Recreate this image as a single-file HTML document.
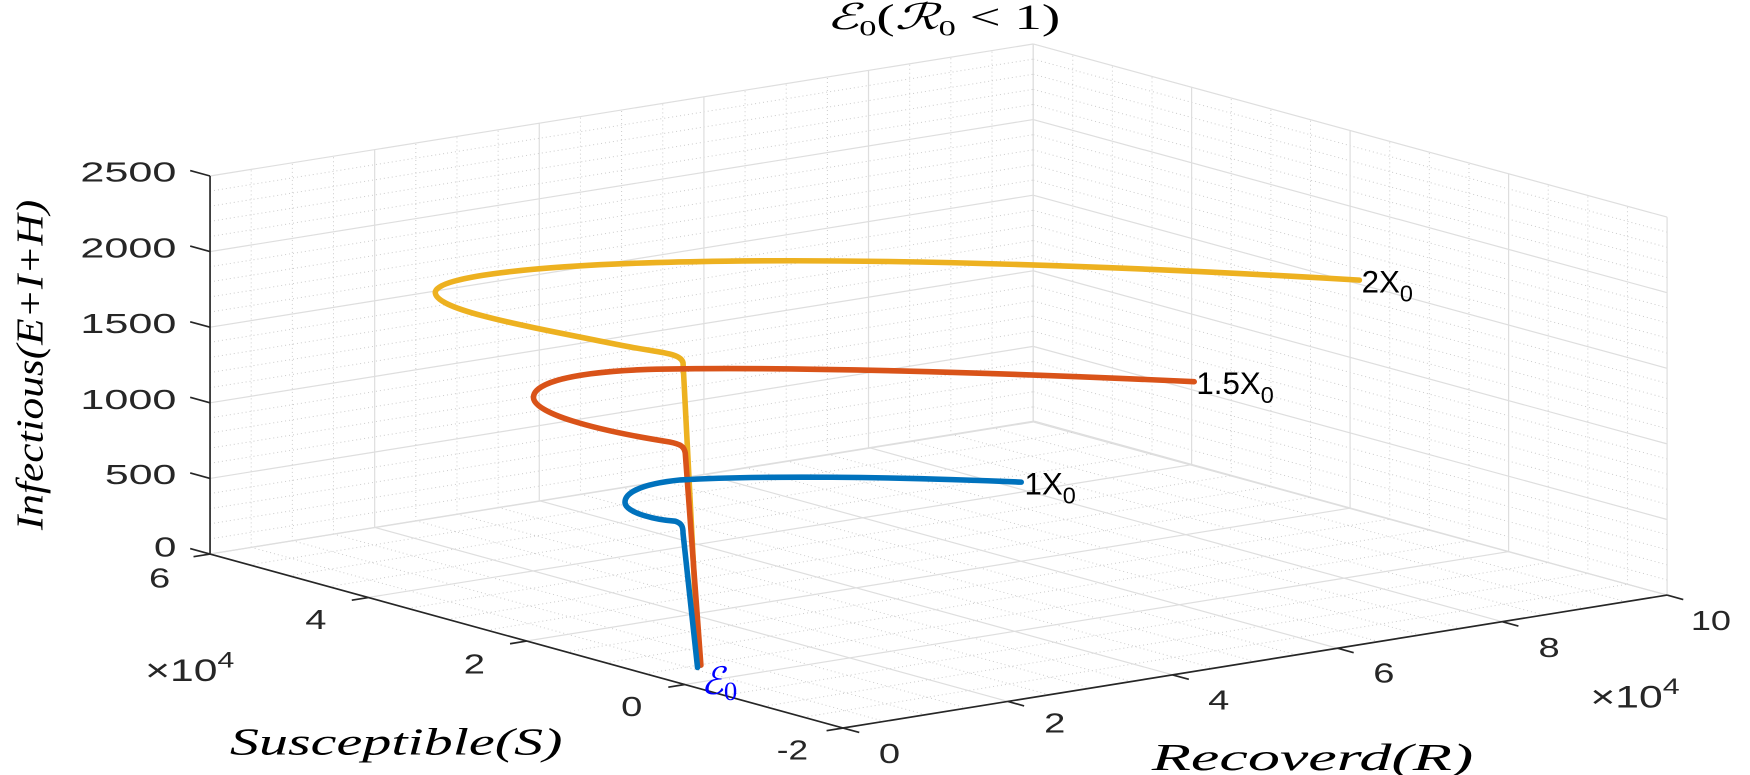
<!DOCTYPE html>
<html><head><meta charset="utf-8"><style>
html,body{margin:0;padding:0;background:#fff;width:1750px;height:775px;overflow:hidden}
svg{display:block}
.mj{stroke:#dedede;stroke-width:1.2;fill:none}
.mn{stroke:#cccccc;stroke-width:1;fill:none;stroke-dasharray:1 3}
.ax{stroke:#262626;stroke-width:1.5;fill:none}
.tl{font-family:"Liberation Sans",sans-serif;font-size:25px;fill:#262626}
.lb{font-family:"Liberation Serif",serif;font-style:italic;font-size:34px;fill:#000}
</style></head><body>
<svg width="1750" height="775" viewBox="0 0 1568 694.4" preserveAspectRatio="none" xmlns="http://www.w3.org/2000/svg">
<defs>
<g id="wallR">
 <path class="mn" vector-effect="non-scaling-stroke" d="M0.5,0V5M1,0V5M1.5,0V5M2.5,0V5M3,0V5M3.5,0V5M4.5,0V5M5,0V5M5.5,0V5M6.5,0V5M7,0V5M7.5,0V5M8.5,0V5M9,0V5M9.5,0V5M0,0.2H10M0,0.4H10M0,0.6H10M0,0.8H10M0,1.2H10M0,1.4H10M0,1.6H10M0,1.8H10M0,2.2H10M0,2.4H10M0,2.6H10M0,2.8H10M0,3.2H10M0,3.4H10M0,3.6H10M0,3.8H10M0,4.2H10M0,4.4H10M0,4.6H10M0,4.8H10"/>
 <path class="mj" vector-effect="non-scaling-stroke" d="M0,0V5M2,0V5M4,0V5M6,0V5M8,0V5M10,0V5M0,0H10M0,1H10M0,2H10M0,3H10M0,4H10M0,5H10"/>
</g>
<g id="wallS">
 <path class="mn" vector-effect="non-scaling-stroke" d="M0.5,0V5M1,0V5M1.5,0V5M2.5,0V5M3,0V5M3.5,0V5M4.5,0V5M5,0V5M5.5,0V5M6.5,0V5M7,0V5M7.5,0V5M0,0.2H8M0,0.4H8M0,0.6H8M0,0.8H8M0,1.2H8M0,1.4H8M0,1.6H8M0,1.8H8M0,2.2H8M0,2.4H8M0,2.6H8M0,2.8H8M0,3.2H8M0,3.4H8M0,3.6H8M0,3.8H8M0,4.2H8M0,4.4H8M0,4.6H8M0,4.8H8"/>
 <path class="mj" vector-effect="non-scaling-stroke" d="M0,0V5M2,0V5M4,0V5M6,0V5M8,0V5M0,0H8M0,1H8M0,2H8M0,3H8M0,4H8M0,5H8"/>
</g>
<g id="floor">
 <path class="mn" vector-effect="non-scaling-stroke" d="M0.5,0V8M1,0V8M1.5,0V8M2.5,0V8M3,0V8M3.5,0V8M4.5,0V8M5,0V8M5.5,0V8M6.5,0V8M7,0V8M7.5,0V8M8.5,0V8M9,0V8M9.5,0V8M0,0.5H10M0,1H10M0,1.5H10M0,2.5H10M0,3H10M0,3.5H10M0,4.5H10M0,5H10M0,5.5H10M0,6.5H10M0,7H10M0,7.5H10"/>
 <path class="mj" vector-effect="non-scaling-stroke" d="M0,0V8M2,0V8M4,0V8M6,0V8M8,0V8M10,0V8M0,0H10M0,2H10M0,4H10M0,6H10M0,8H10"/>
</g>
</defs>
<use href="#wallR" transform="matrix(73.75,-11.83,0,-67.74,188.2,496.4)"/>
<use href="#wallS" transform="matrix(-71.0,-19.39,0,-67.74,1493.7,533.2)"/>
<use href="#floor" transform="matrix(73.83,-11.91,-70.9,-19.49,755.4,652.3)"/>

<path class="ax" d="M188.2,496.4V157.7M188.2,496.4L755.4,652.3L1493.7,533.2"/>
<path class="ax" d="M188.2,157.7l-17.8,-4.9M188.2,225.4l-17.8,-4.9M188.2,293.2l-17.8,-4.9M188.2,360.9l-17.8,-4.9M188.2,428.7l-17.8,-4.9M188.2,496.4l-17.8,-4.9"/>
<path class="ax" d="M188.2,496.4l-14.8,2.4M330,535.4l-14.8,2.4M471.8,574.4l-14.8,2.4M613.6,613.3l-14.8,2.4M755.4,652.3l-14.8,2.4"/>
<path class="ax" d="M755.4,652.3l14.5,4M903.1,628.5l14.5,4M1050.7,604.7l14.5,4M1198.4,580.8l14.5,4M1346,557l14.5,4M1493.7,533.2l14.5,4"/>

<g class="tl" text-anchor="end" dominant-baseline="central">
<text x="158" y="154" textLength="86" lengthAdjust="spacingAndGlyphs">2500</text>
<text x="158" y="222" textLength="86" lengthAdjust="spacingAndGlyphs">2000</text>
<text x="158" y="290" textLength="86" lengthAdjust="spacingAndGlyphs">1500</text>
<text x="158" y="358" textLength="86" lengthAdjust="spacingAndGlyphs">1000</text>
<text x="158" y="425" textLength="64" lengthAdjust="spacingAndGlyphs">500</text>
<text x="158" y="490" textLength="20" lengthAdjust="spacingAndGlyphs">0</text>
</g>
<g class="tl" text-anchor="middle" dominant-baseline="central">
<text x="143" y="518" textLength="19" lengthAdjust="spacingAndGlyphs">6</text>
<text x="283" y="555" textLength="19" lengthAdjust="spacingAndGlyphs">4</text>
<text x="425" y="595" textLength="19" lengthAdjust="spacingAndGlyphs">2</text>
<text x="566" y="633" textLength="19" lengthAdjust="spacingAndGlyphs">0</text>
<text x="710" y="672" textLength="28" lengthAdjust="spacingAndGlyphs">-2</text>
<text x="797" y="675" textLength="19" lengthAdjust="spacingAndGlyphs">0</text>
<text x="945" y="648" textLength="19" lengthAdjust="spacingAndGlyphs">2</text>
<text x="1092" y="627" textLength="19" lengthAdjust="spacingAndGlyphs">4</text>
<text x="1240" y="603" textLength="19" lengthAdjust="spacingAndGlyphs">6</text>
<text x="1388" y="580" textLength="19" lengthAdjust="spacingAndGlyphs">8</text>
<text x="1533" y="556" textLength="36" lengthAdjust="spacingAndGlyphs">10</text>
</g>
<text x="130" y="610" style="font-family:'Liberation Sans',sans-serif;font-size:28px;fill:#262626" textLength="80" lengthAdjust="spacingAndGlyphs">×10<tspan style="font-size:20px" dy="-12">4</tspan></text>
<text x="1425" y="634" style="font-family:'Liberation Sans',sans-serif;font-size:28px;fill:#262626" textLength="80" lengthAdjust="spacingAndGlyphs">×10<tspan style="font-size:20px" dy="-12">4</tspan></text>

<text class="lb" x="355" y="676" text-anchor="middle" textLength="298" lengthAdjust="spacingAndGlyphs">Susceptible(S)</text>
<text class="lb" x="1176" y="690" text-anchor="middle" textLength="288" lengthAdjust="spacingAndGlyphs">Recoverd(R)</text>
<text class="lb" transform="translate(38,327) rotate(-90)" text-anchor="middle" textLength="296" lengthAdjust="spacingAndGlyphs">Infectious(E+I+H)</text>
<text x="845" y="26" text-anchor="middle" font-family="Liberation Serif,serif" font-size="32" fill="#000" textLength="210" lengthAdjust="spacingAndGlyphs"><tspan font-style="italic">ℰ</tspan><tspan font-size="20" dy="6">0</tspan><tspan dy="-6">(</tspan><tspan font-style="italic">ℛ</tspan><tspan font-size="20" dy="6">0</tspan><tspan dy="-6"> &lt; 1)</tspan></text>

<g fill="none" stroke-width="5" stroke-linecap="round" stroke-linejoin="round">
<path stroke="#EDB120" d="M1218,251 C1000,238 800,232 650,234 C480,236 390,248 390,262 C390,278 470,292 560,310 C590,316 610,316 612,325 L626,596"/>
<path stroke="#D95319" d="M1070,342 C900,334 700,328 580,331 C500,334 478,346 478,356 C478,370 530,385 600,396 C610,398 613,400 614,406 L628,596"/>
<path stroke="#0072BD" d="M915,432 C800,427 680,426 610,430 C570,434 560,443 560,450 C560,460 590,466 605,467 C611,469 612,472 612,478 L625,598"/>
</g>

<g font-family="Liberation Sans,sans-serif" font-size="28" fill="#000">
<text x="1220" y="262">2X<tspan font-size="21" dy="8">0</tspan></text>
<text x="1072" y="353">1.5X<tspan font-size="21" dy="8">0</tspan></text>
<text x="918" y="443">1X<tspan font-size="21" dy="8">0</tspan></text>
</g>
<text x="628" y="622" font-family="Liberation Serif,serif" font-size="34" fill="#0000ff"><tspan font-style="italic">ℰ</tspan><tspan font-size="24" dy="5">0</tspan></text>
</svg>
</body></html>
